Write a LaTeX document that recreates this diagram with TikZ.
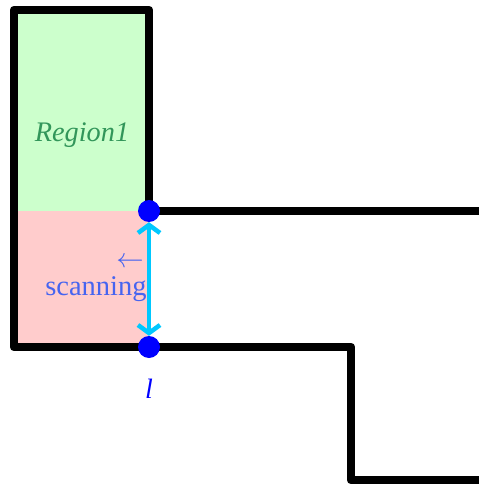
\documentclass[tikz,border=0pt]{standalone}
\usepackage{fontspec}
\setmainfont{Liberation Serif}
\usetikzlibrary{arrows.meta}
\definecolor{cyanline}{RGB}{0,200,255}
\definecolor{scantext}{RGB}{70,100,240}
\definecolor{regtext}{RGB}{50,150,90}
\definecolor{greenfill}{RGB}{204,255,204}
\definecolor{redfill}{RGB}{255,204,204}
\begin{document}
\begin{tikzpicture}[x=1pt,y=-1pt,
  wall/.style={line width=8.5pt,line join=round,line cap=round},
  dotnode/.style={circle,fill=blue,inner sep=0pt,minimum size=22pt}]
\useasboundingbox (0,0) rectangle (479,486);
\fill[greenfill] (14,10) rectangle (149,211);
\fill[redfill] (14,211) rectangle (149,347);
\draw[wall] (149,211) -- (149,10) -- (14,10) -- (14,347) -- (149,347);
\draw[wall,line cap=butt] (149,211) -- (479,211);
\draw[wall,line cap=butt] (149,347) -- (351,347) -- (351,480) -- (479,480);
\node[text=regtext,font=\fontsize{28.3}{32}\selectfont\itshape] (r1) at (82,135) {Region1};
\node[text=scantext,font=\fontsize{28}{32}\selectfont] (arr) at (130,262) {\scalebox{1.1}{$\leftarrow$}};
\node[text=scantext,font=\fontsize{28.5}{32}\selectfont] (sc) at (96,289) {scanning};
\node[dotnode] (p1) at (149,211) {};
\node[dotnode] (p2) at (149,347) {};
\draw[cyanline,line width=4.5pt,{Straight Barb[length=8pt,width=22pt,line width=4.5pt]}-{Straight Barb[length=8pt,width=22pt,line width=4.5pt]}] (p1) -- (p2);
\node[text=blue,font=\fontsize{28}{32}\selectfont\itshape] (l) at (149,389) {l};
\end{tikzpicture}
\end{document}
